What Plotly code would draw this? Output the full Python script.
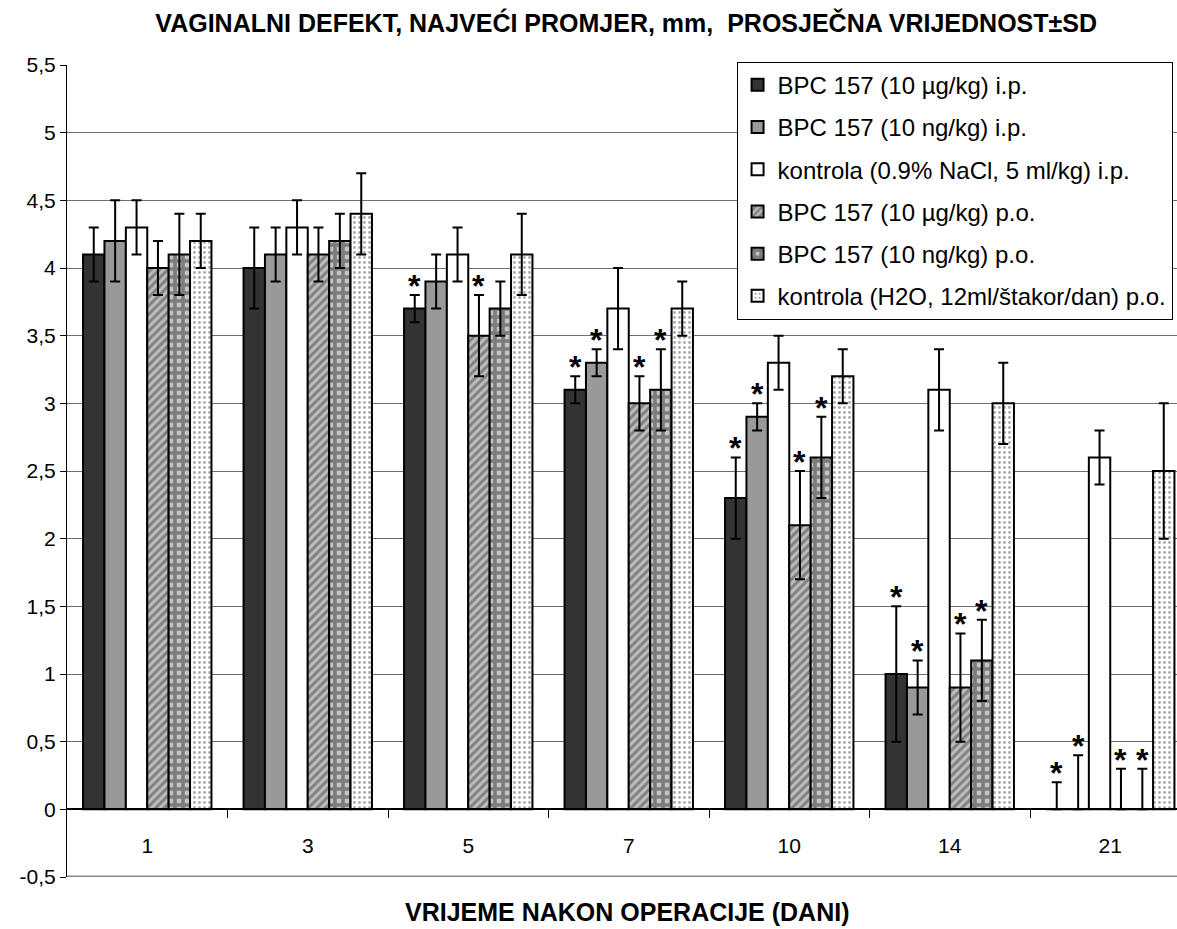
import plotly.graph_objects as go

days = ["1", "3", "5", "7", "10", "14", "21"]
series_names = [
    "BPC 157 (10 µg/kg) i.p.",
    "BPC 157 (10 ng/kg) i.p.",
    "kontrola (0.9% NaCl, 5 ml/kg) i.p.",
    "BPC 157 (10 µg/kg) p.o.",
    "BPC 157 (10 ng/kg) p.o.",
    "kontrola (H2O, 12ml/štakor/dan) p.o.",
]
bpc_ug_ip = [4.1, 4.0, 3.7, 3.1, 2.3, 1.0, 0.0]
bpc_ng_ip = [4.2, 4.1, 3.9, 3.3, 2.9, 0.9, 0.0]
ctrl_ip = [4.3, 4.3, 4.1, 3.7, 3.3, 3.1, 2.6]
bpc_ug_po = [4.0, 4.1, 3.5, 3.0, 2.1, 0.9, 0.0]
bpc_ng_po = [4.1, 4.2, 3.7, 3.1, 2.6, 1.1, 0.0]
ctrl_po = [4.2, 4.4, 4.1, 3.7, 3.2, 3.0, 2.5]

sd_ug_ip = [0.2, 0.3, 0.1, 0.1, 0.3, 0.5, 0.2]
sd_ng_ip = [0.3, 0.2, 0.2, 0.1, 0.1, 0.2, 0.4]
sd_ctrl_ip = [0.2, 0.2, 0.2, 0.3, 0.2, 0.3, 0.2]
sd_ug_po = [0.2, 0.2, 0.3, 0.2, 0.4, 0.4, 0.3]
sd_ng_po = [0.3, 0.2, 0.2, 0.3, 0.3, 0.3, 0.3]
sd_ctrl_po = [0.2, 0.3, 0.3, 0.2, 0.2, 0.3, 0.5]

# significance markers (1 = asterisk)
sig_ug_ip = [0, 0, 1, 1, 1, 1, 1]
sig_ng_ip = [0, 0, 0, 1, 1, 1, 1]
sig_ctrl_ip = [0, 0, 0, 0, 0, 0, 0]
sig_ug_po = [0, 0, 1, 1, 1, 1, 1]
sig_ng_po = [0, 0, 0, 1, 1, 1, 1]
sig_ctrl_po = [0, 0, 0, 0, 0, 0, 0]

y_tickvals = [-0.5, 0, 0.5, 1, 1.5, 2, 2.5, 3, 3.5, 4, 4.5, 5, 5.5]
y_ticktext = ["-0,5", "0", "0,5", "1", "1,5", "2", "2,5", "3", "3,5", "4", "4,5", "5", "5,5"]

values = [bpc_ug_ip, bpc_ng_ip, ctrl_ip, bpc_ug_po, bpc_ng_po, ctrl_po]
sds = [sd_ug_ip, sd_ng_ip, sd_ctrl_ip, sd_ug_po, sd_ng_po, sd_ctrl_po]
sigs = [sig_ug_ip, sig_ng_ip, sig_ctrl_ip, sig_ug_po, sig_ng_po, sig_ctrl_po]

styles = [
    dict(color="#333333"),
    dict(color="#999999"),
    dict(color="#ffffff"),
    dict(color="#b0b0b0", pattern=dict(shape="/", fgcolor="#444444", bgcolor="#bdbdbd", size=6, solidity=0.5)),
    dict(color="#999999", pattern=dict(shape="+", fgcolor="#333333", bgcolor="#c4c4c4", size=8, solidity=0.7)),
    dict(color="#ffffff", pattern=dict(shape=".", fgcolor="#555555", bgcolor="#ffffff", size=5, solidity=0.25)),
]

n = len(series_names)
group_w = 0.8
bw = group_w / n

fig = go.Figure()
annotations = []
for j in range(n):
    xs = [i + (j - (n - 1) / 2) * bw for i in range(len(days))]
    minus = [min(s, v) for s, v in zip(sds[j], values[j])]
    fig.add_trace(go.Bar(
        x=xs, y=values[j], width=bw, name=series_names[j],
        legendgroup=f"g{j}",
        marker=dict(line=dict(color="black", width=2), **styles[j]),
        error_y=dict(type="data", array=sds[j], arrayminus=minus, symmetric=False,
                     color="black", thickness=2, width=5),
    ))
    for x, v, s, g in zip(xs, values[j], sds[j], sigs[j]):
        if g:
            annotations.append(dict(
                x=x, y=v + s, xref="x", yref="y", text="<b>*</b>", showarrow=False,
                xanchor="center", yanchor="middle", yshift=9,
                font=dict(size=32, family="Liberation Sans", color="black"),
            ))

plot_px_left = 67
cat_px = 160.5
vis_w = 1177 - plot_px_left
x_max = -0.5 + vis_w / cat_px

annotations.append(dict(text="<b>VRIJEME NAKON OPERACIJE (DANI)</b>", xref="paper", yref="paper",
                        x=0.505, y=-35 / 812, xanchor="center", yanchor="middle", showarrow=False,
                        font=dict(size=25, family="Liberation Sans", color="black")))

fig.update_layout(
    width=1177, height=929,
    margin=dict(l=plot_px_left, r=0, t=65, b=52),
    paper_bgcolor="white", plot_bgcolor="white",
    barmode="overlay",
    font=dict(family="Liberation Sans", color="black", size=21),
    title=dict(text="<b>VAGINALNI DEFEKT, NAJVEĆI PROMJER, mm,  PROSJEČNA VRIJEDNOST±SD</b>",
               x=0.532, xanchor="center", y=1 - 23 / 929, yanchor="middle", yref="container",
               font=dict(size=25, family="Liberation Sans", color="black")),
    showlegend=True,
    legend=dict(x=0.996, xanchor="right", y=1.004, yanchor="top",
                bordercolor="black", borderwidth=1, bgcolor="white",
                font=dict(size=24, family="Liberation Sans", color="black"),
                tracegroupgap=8, traceorder="grouped"),
    xaxis=dict(
        range=[-0.5, x_max], anchor="free", position=0.5 / 6,
        tickmode="array", tickvals=list(range(len(days))), ticktext=days,
        ticks="", showgrid=False, zeroline=False,
        showline=True, linecolor="black", linewidth=1.5,
        ticklabelstandoff=18,
        tickfont=dict(size=21),
        minor=dict(tickvals=[i + 0.5 for i in range(len(days) - 1)], ticks="outside",
                   ticklen=8, tickcolor="black", tickwidth=1, showgrid=False),
    ),
    yaxis=dict(
        range=[-0.5, 5.5], tickmode="array", tickvals=y_tickvals, ticktext=y_ticktext,
        showgrid=True, gridcolor="#6e6e6e", gridwidth=1, zeroline=False,
        showline=True, linecolor="black", linewidth=1,
        ticks="outside", ticklen=6, tickcolor="black",
        tickfont=dict(size=21),
    ),
    annotations=annotations,
    shapes=[dict(type="line", xref="paper", yref="y", x0=0, x1=1, y0=-0.5, y1=-0.5,
                 line=dict(color="#888888", width=3))],
)

fig.write_html("out.html", config={"displayModeBar": False},
               post_script="document.body.style.margin='0';document.body.style.overflow='hidden';")
